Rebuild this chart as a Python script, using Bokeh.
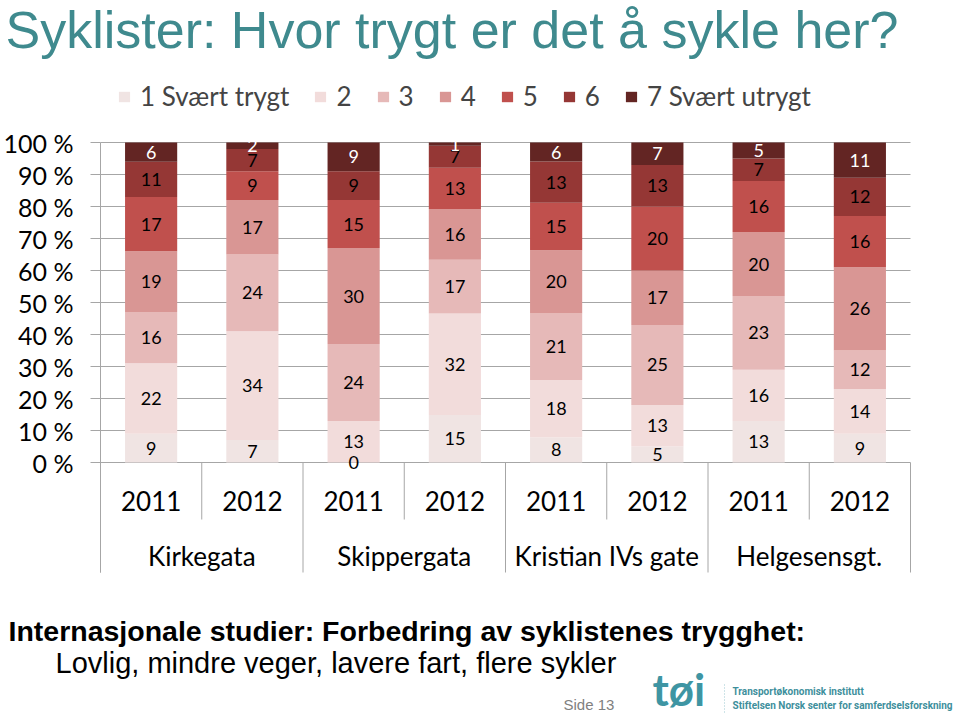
from bokeh.plotting import figure
from bokeh.models import (ColumnDataSource, Legend, LegendItem, Label, FixedTicker)
from bokeh.core.properties import value
from bokeh.embed import file_html
from bokeh.resources import INLINE

# ---------------- data ----------------
streets = ["Kirkegata", "Skippergata", "Kristian IVs gate", "Helgesensgt."]
years = ["2011", "2012"]
series_names = ["1 Svært trygt", "2", "3", "4", "5", "6", "7 Svært utrygt"]
# one value per bar: K11, K12, S11, S12, Kr11, Kr12, H11, H12 (bottom -> top)
s1 = [9, 7, 0, 15, 8, 5, 13, 9]
s2 = [22, 34, 13, 32, 18, 13, 16, 14]
s3 = [16, 24, 24, 17, 21, 25, 23, 12]
s4 = [19, 17, 30, 16, 20, 17, 20, 26]
s5 = [17, 9, 15, 13, 15, 20, 16, 16]
s6 = [11, 7, 9, 7, 13, 13, 7, 12]
s7 = [6, 2, 9, 1, 6, 7, 5, 11]
y_ticks = [0, 10, 20, 30, 40, 50, 60, 70, 80, 90, 100]

series = [s1, s2, s3, s4, s5, s6, s7]
colors = ["#f0e4e3", "#f2dcdb", "#e6b9b8", "#d99694", "#c0504d", "#953735", "#632523"]
label_colors = ["#000000"] * 6 + ["#ffffff"]

n_bars = len(streets) * len(years)
xs = [i + 0.5 for i in range(n_bars)]
totals = [sum(s[i] for s in series) for i in range(n_bars)]
keys = ["s%d" % k for k in range(len(series))]
data = {"x": xs}
for k, s in zip(keys, series):
    data[k] = [v / t * 100 for v, t in zip(s, totals)]
src = ColumnDataSource(data)

GRID = "#a6a6a6"
CAL = "Lato"
W, H = 960, 716
X0, XU = 100.0, 101.25      # pixel of x=0, pixels per category
Y0, YU = 462.0, 3.2         # pixel of y=0, pixels per percent
AX_BOTTOM = -34.375

def px(xp):
    return (xp - X0) / XU

def py(yp):
    return (Y0 - yp) / YU

p = figure(width=W, height=H, x_range=(px(0), px(W)), y_range=(py(H), py(0)),
           output_backend="svg", toolbar_location=None,
           min_border_left=0, min_border_right=0, min_border_top=0, min_border_bottom=0)
p.outline_line_color = None
p.background_fill_color = "white"
p.xaxis.visible = False
p.xgrid.visible = False
p.ygrid.visible = False

yax = p.yaxis[0]
yax.fixed_location = 0
yax.bounds = (AX_BOTTOM, 100)
yax.ticker = FixedTicker(ticks=y_ticks)
yax.major_label_overrides = {t: "%d %%" % t for t in y_ticks}
yax.major_label_text_font = CAL
yax.major_label_text_font_size = "25px"
yax.major_label_text_color = "black"
yax.major_label_standoff = 17
yax.major_tick_out = 10
yax.major_tick_in = 0
yax.minor_tick_line_color = None
yax.axis_line_color = GRID
yax.major_tick_line_color = GRID

# horizontal gridlines across the plot area
p.segment(x0=[0] * len(y_ticks), x1=[n_bars] * len(y_ticks), y0=y_ticks, y1=y_ticks,
          line_color=GRID, line_width=1)

renderers = p.vbar_stack(keys, x="x", width=0.515, color=colors, line_color=None, source=src)

# segment value labels
lx, ly, lt, lc = [], [], [], []
for i in range(n_bars):
    base = 0
    for k, s in enumerate(series):
        h = data[keys[k]][i]
        lx.append(xs[i]); ly.append(base + h / 2); lt.append(str(s[i])); lc.append(label_colors[k])
        base += h
p.text(x=lx, y=ly, text=lt, text_color=lc, text_align="center", text_baseline="middle",
       text_font=value(CAL), text_font_size="18px")

# category labels
year_t = [y for _ in streets for y in years]
p.text(x=xs, y=[py(500)] * n_bars, text=year_t, text_align="center", text_baseline="middle",
       text_font=value(CAL), text_font_size="26px", text_color="black")
grp_x = [len(years) * (g + 0.5) for g in range(len(streets))]
p.text(x=grp_x, y=[py(555)] * len(streets), text=streets, text_align="center", text_baseline="middle",
       text_font=value(CAL), text_font_size="26px", text_color="black")

# separators under the axis
sub_x = [len(years) * g + j for g in range(len(streets)) for j in range(1, len(years))]
p.segment(x0=sub_x, x1=sub_x, y0=[0] * len(sub_x), y1=[py(519)] * len(sub_x), line_color=GRID, line_width=1)
grp_sep = [len(years) * g for g in range(len(streets) + 1)]
p.segment(x0=grp_sep, x1=grp_sep, y0=[0] * len(grp_sep), y1=[AX_BOTTOM] * len(grp_sep),
          line_color=GRID, line_width=1)

# legend
items = [LegendItem(label=nm, renderers=[r]) for nm, r in zip(series_names, renderers)]
legend = Legend(items=items, orientation="horizontal", location=(117, H - 112),
                glyph_width=14, glyph_height=13, label_standoff=9, spacing=24,
                padding=0, margin=0, border_line_color=None, background_fill_alpha=0,
                label_text_font=CAL, label_text_font_size="26px", label_width=0)
p.add_layout(legend)

TEAL = "#3f8a8e"
LOGO = "#3e95a3"
p.add_layout(Label(x=px(5), y=py(29), text="Syklister: Hvor trygt er det å sykle her?",
                   text_font="Liberation Sans", text_font_size="52px", text_color=TEAL,
                   text_baseline="alphabetic"))
p.add_layout(Label(x=px(8), y=py(630), text="Internasjonale studier: Forbedring av syklistenes trygghet:",
                   text_font="Liberation Sans", text_font_size="28.5px", text_font_style="bold",
                   text_color="black", text_baseline="alphabetic"))
p.add_layout(Label(x=px(55), y=py(662), text="Lovlig, mindre veger, lavere fart, flere sykler",
                   text_font="Liberation Sans", text_font_size="29px",
                   text_color="black", text_baseline="alphabetic"))
p.add_layout(Label(x=px(563), y=py(704), text="Side 13",
                   text_font="Liberation Sans", text_font_size="15px",
                   text_color="#808080", text_baseline="alphabetic"))
p.add_layout(Label(x=px(652), y=py(688), text="tøi",
                   text_font="Lato", text_font_size="44px", text_font_style="bold",
                   text_color=LOGO, text_baseline="alphabetic"))
p.segment(x0=[px(724)], x1=[px(724)], y0=[py(684)], y1=[py(712)],
          line_color="#9cc9d0", line_width=1, line_dash="1 2")
p.add_layout(Label(x=px(732), y=py(691), text="Transportøkonomisk institutt",
                   text_font="Roboto", text_font_size="10px", text_font_style="bold",
                   text_color="#3e8f9c", text_baseline="alphabetic"))
p.add_layout(Label(x=px(732), y=py(705), text="Stiftelsen Norsk senter for samferdselsforskning",
                   text_font="Roboto", text_font_size="10px", text_font_style="bold",
                   text_color="#3e8f9c", text_baseline="alphabetic"))

open("out.html", "w").write(file_html(p, INLINE))
